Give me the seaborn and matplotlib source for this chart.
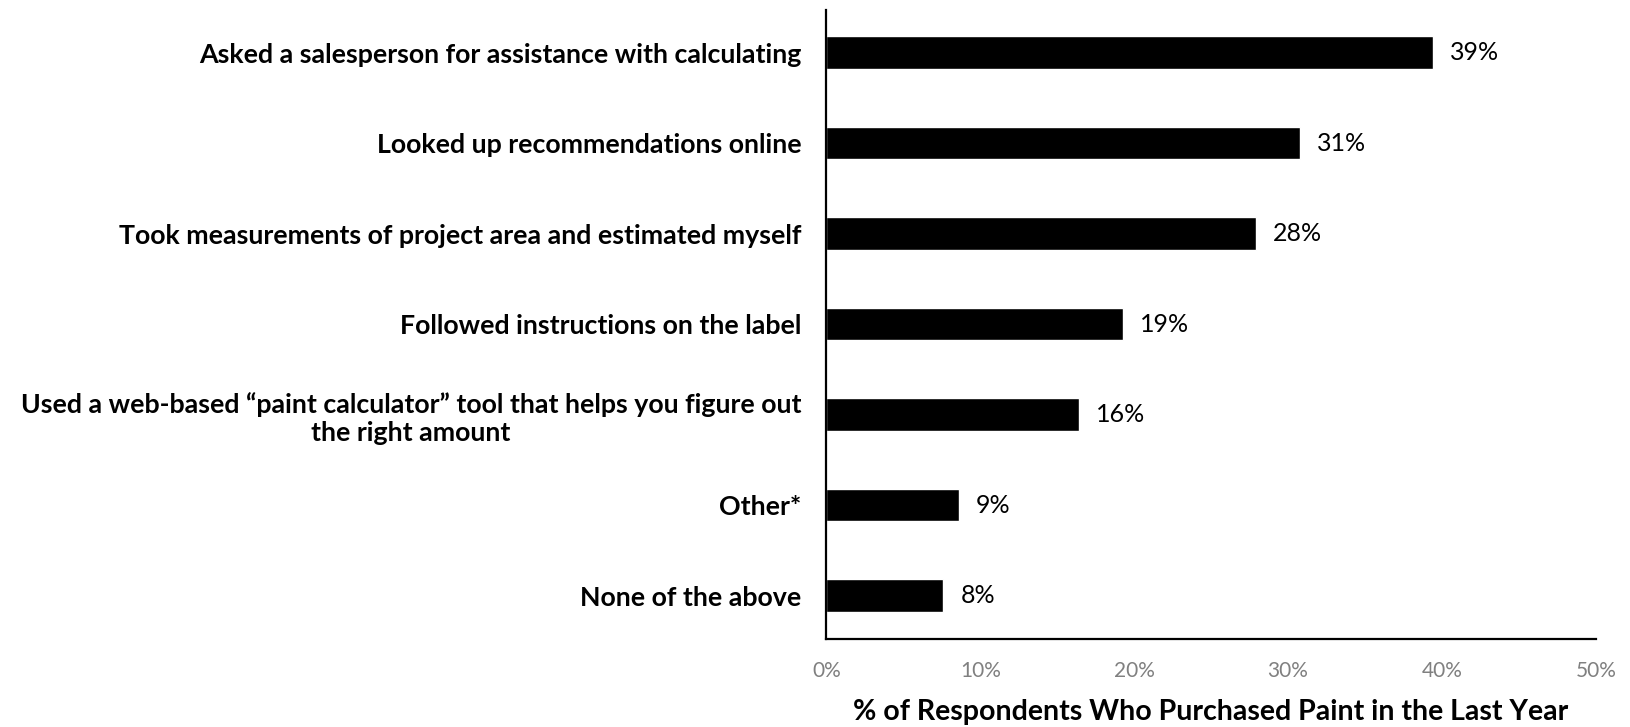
import matplotlib
matplotlib.use("Agg")
import matplotlib.pyplot as plt
import seaborn as sns
import pandas as pd
from matplotlib.ticker import FuncFormatter

categories = [
    "Asked a salesperson for assistance with calculating",
    "Looked up recommendations online",
    "Took measurements of project area and estimated myself",
    "Followed instructions on the label",
    "Used a web-based \u201cpaint calculator\u201d tool that helps you figure out\nthe right amount",
    "Other*",
    "None of the above",
]
values = [39.4, 30.8, 27.9, 19.3, 16.4, 8.6, 7.6]
value_labels = ["39%", "31%", "28%", "19%", "16%", "9%", "8%"]
xticks = [0, 10, 20, 30, 40, 50]
xlabel = "% of Respondents Who Purchased Paint in the Last Year"

sns.set_theme(style="white")
plt.rcParams['font.family'] = ['Lato', 'DejaVu Sans']
plt.rcParams['text.color'] = 'black'

df = pd.DataFrame({"cat": categories, "val": values})

fig = plt.figure(figsize=(16.30, 7.27), dpi=100)
ax = fig.add_axes([0.507, 0.121, 0.472, 0.865])
sns.barplot(data=df, y="cat", x="val", color="black", width=0.36,
            orient="h", ax=ax, saturation=1)

ax.set_xlim(0, 50)
ax.set_ylim(6.48, -0.47)
ax.set_xticks(xticks)
ax.xaxis.set_major_formatter(FuncFormatter(lambda v, p: f"{int(v)}%"))
ax.tick_params(axis='x', length=0, pad=16, labelsize=15, labelcolor="#808080")
ax.tick_params(axis='y', length=0, pad=18, labelsize=19.3, labelcolor="black")
for lab in ax.get_yticklabels():
    lab.set_fontweight("bold")
    lab.set_multialignment("center")
    lab.set_linespacing(1.2)
ax.set_ylabel("")
ax.set_xlabel(xlabel, fontsize=20.5, fontweight="bold", labelpad=13, color="black")

for s in ["top", "right"]:
    ax.spines[s].set_visible(False)
for s in ["left", "bottom"]:
    ax.spines[s].set_color("black")
    ax.spines[s].set_linewidth(1.6)

for i, (v, t) in enumerate(zip(values, value_labels)):
    ax.text(v + 1.1, i, t, va="center", ha="left", fontsize=18, color="black")

fig.savefig("out.png", dpi=100)
